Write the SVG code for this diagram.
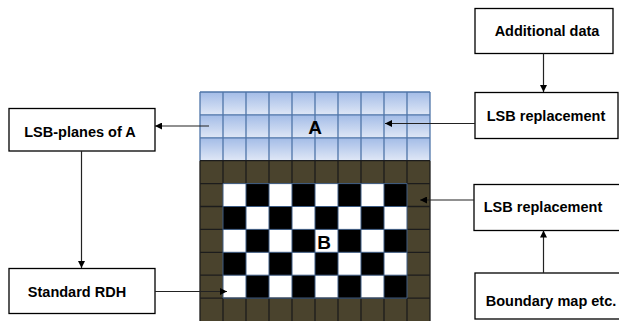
<svg xmlns="http://www.w3.org/2000/svg" width="619" height="321" viewBox="0 0 619 321">
<style>
.box{fill:#fff;stroke:#000;stroke-width:1.3}
.lbl{font-family:"Liberation Sans",Arial,sans-serif;font-weight:bold;font-size:14.5px;fill:#000}
.big{font-family:"Liberation Sans",Arial,sans-serif;font-weight:bold;font-size:19px;fill:#000}
.con{stroke:#222;stroke-width:1.2;fill:none;marker-end:url(#ah)}
</style>
<defs>
<linearGradient id="bg" x1="0" y1="0" x2="0" y2="1">
<stop offset="0" stop-color="#a3bce7"/>
<stop offset="1" stop-color="#dfe7f6"/>
</linearGradient>
<pattern id="bp" patternUnits="userSpaceOnUse" x="200" y="92" width="23" height="22.9">
<rect width="23" height="22.9" fill="url(#bg)"/>
</pattern>
<marker id="ah" markerUnits="userSpaceOnUse" markerWidth="7" markerHeight="7" refX="7" refY="3.5" orient="auto">
<path d="M0,0 L7,3.5 L0,7 z" fill="#000"/>
</marker>
</defs>
<rect width="619" height="321" fill="#fff"/>
<g id="grid">
<rect x="200" y="92" width="230" height="68.7" fill="url(#bp)"/>
<rect x="200" y="160.7" width="230" height="161" fill="#4a432d"/>
<rect x="223" y="183.6" width="184" height="114.5" fill="#fff"/>
<g fill="#000">
<rect x="246" y="183.6" width="23" height="22.9"/><rect x="292" y="183.6" width="23" height="22.9"/><rect x="338" y="183.6" width="23" height="22.9"/><rect x="384" y="183.6" width="23" height="22.9"/>
<rect x="223" y="206.5" width="23" height="22.9"/><rect x="269" y="206.5" width="23" height="22.9"/><rect x="315" y="206.5" width="23" height="22.9"/><rect x="361" y="206.5" width="23" height="22.9"/>
<rect x="246" y="229.4" width="23" height="22.9"/><rect x="292" y="229.4" width="23" height="22.9"/><rect x="338" y="229.4" width="23" height="22.9"/><rect x="384" y="229.4" width="23" height="22.9"/>
<rect x="223" y="252.3" width="23" height="22.9"/><rect x="269" y="252.3" width="23" height="22.9"/><rect x="315" y="252.3" width="23" height="22.9"/><rect x="361" y="252.3" width="23" height="22.9"/>
<rect x="246" y="275.2" width="23" height="22.9"/><rect x="292" y="275.2" width="23" height="22.9"/><rect x="338" y="275.2" width="23" height="22.9"/><rect x="384" y="275.2" width="23" height="22.9"/>
</g>
<path d="M200,92H430M200,114.9H430M200,137.8H430M200,92V160.7M223,92V160.7M246,92V160.7M269,92V160.7M292,92V160.7M315,92V160.7M338,92V160.7M361,92V160.7M384,92V160.7M407,92V160.7M430,92V160.7" stroke="#4f75a8" stroke-width="1.3" fill="none"/>
<path d="M200,160.7H430M200,183.6H223M407,183.6H430M200,206.5H223M407,206.5H430M200,229.4H223M407,229.4H430M200,252.3H223M407,252.3H430M200,275.2H223M407,275.2H430M200,298.1H430M200,160.7V321M223,160.7V183.6M223,298.1V321M246,160.7V183.6M246,298.1V321M269,160.7V183.6M269,298.1V321M292,160.7V183.6M292,298.1V321M315,160.7V183.6M315,298.1V321M338,160.7V183.6M338,298.1V321M361,160.7V183.6M361,298.1V321M384,160.7V183.6M384,298.1V321M407,160.7V183.6M407,298.1V321M430,160.7V321" stroke="#1c1c1c" stroke-width="1.3" fill="none"/>
<path d="M223,183.6H407M223,206.5H407M223,229.4H407M223,252.3H407M223,275.2H407M223,298.1H407M223,183.6V298.1M246,183.6V298.1M269,183.6V298.1M292,183.6V298.1M315,183.6V298.1M338,183.6V298.1M361,183.6V298.1M384,183.6V298.1M407,183.6V298.1" stroke="#3d5b82" stroke-width="1" fill="none"/>
<text class="big" x="315" y="134" text-anchor="middle">A</text>
<text class="big" x="324" y="249" text-anchor="middle">B</text>
</g>
<g id="n-lsbplanes"><rect class="box" x="9" y="108.5" width="146" height="42.5"/><text class="lbl" x="80" y="137" text-anchor="middle">LSB-planes of A</text></g>
<g id="n-rdh"><rect class="box" x="9" y="268.5" width="146" height="45"/><text class="lbl" x="77" y="297" text-anchor="middle">Standard RDH</text></g>
<g id="n-additional"><rect class="box" x="475" y="8.5" width="138" height="45"/><text class="lbl" x="547" y="36" text-anchor="middle">Additional data</text></g>
<g id="n-lsbrep1"><rect class="box" x="475" y="92.5" width="143" height="46"/><text class="lbl" x="546" y="121" text-anchor="middle">LSB replacement</text></g>
<g id="n-lsbrep2"><rect class="box" x="474" y="184.5" width="150" height="46"/><text class="lbl" x="543" y="212" text-anchor="middle">LSB replacement</text></g>
<g id="n-boundary"><rect class="box" x="475" y="273" width="150" height="46"/><text class="lbl" x="551" y="306" text-anchor="middle">Boundary map etc.</text></g>
<g id="connectors">
<path class="con" d="M543.5,53.5V92"/>
<path class="con" d="M475,123.5H385"/>
<path class="con" d="M474,200H420"/>
<path class="con" d="M543.5,273V230.5"/>
<path class="con" d="M209,126H155"/>
<path class="con" d="M81.5,151V268"/>
<path class="con" d="M155,291.5H227"/>
</g>
</svg>
